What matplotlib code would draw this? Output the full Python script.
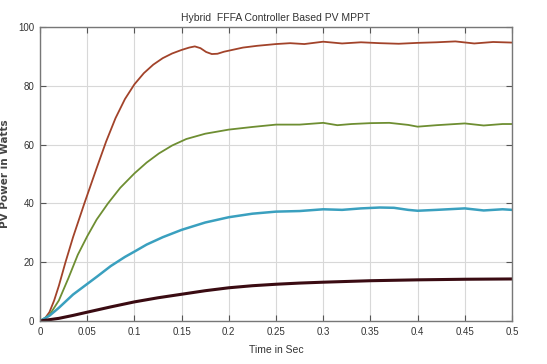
import matplotlib
matplotlib.use("Agg")
import matplotlib.pyplot as plt
from matplotlib import font_manager

names = {f.name for f in font_manager.fontManager.ttflist}
narrow = ['Liberation Sans Narrow', 'DejaVu Sans'] if 'Liberation Sans Narrow' in names else ['Liberation Sans', 'DejaVu Sans']

# ---- data ----
t_red = [0, 0.005, 0.01, 0.015, 0.02, 0.027, 0.035, 0.047, 0.06, 0.07, 0.08, 0.09, 0.1,
         0.11, 0.12, 0.13, 0.14, 0.15, 0.158, 0.164, 0.17, 0.176, 0.182, 0.188, 0.195,
         0.205, 0.215, 0.23, 0.25, 0.265, 0.28, 0.3, 0.32, 0.34, 0.36, 0.38, 0.4, 0.42,
         0.44, 0.46, 0.48, 0.5]
p_red = [0, 0.8, 3, 7, 12, 20, 28.5, 40, 52, 61, 69, 75.5, 80.5,
         84.3, 87.2, 89.4, 91.0, 92.2, 93.0, 93.4, 92.8, 91.5, 90.8, 90.9, 91.6,
         92.3, 93.0, 93.6, 94.2, 94.5, 94.2, 95.0, 94.4, 94.8, 94.5, 94.3, 94.6, 94.8,
         95.1, 94.4, 94.9, 94.7]

t_green = [0, 0.01, 0.02, 0.03, 0.04, 0.05, 0.06, 0.072, 0.085, 0.1, 0.113, 0.126, 0.14,
           0.155, 0.175, 0.2, 0.225, 0.25, 0.275, 0.3, 0.315, 0.33, 0.35, 0.37, 0.39,
           0.4, 0.42, 0.44, 0.45, 0.47, 0.49, 0.5]
p_green = [0, 2, 7, 14.5, 22.5, 28.8, 34.5, 40, 45.3, 50.2, 53.9, 57, 59.7,
           61.9, 63.7, 65.1, 66.0, 66.8, 66.8, 67.4, 66.6, 67.0, 67.3, 67.4, 66.7,
           66.1, 66.6, 67.0, 67.2, 66.5, 67.0, 67.0]

t_cyan = [0, 0.01, 0.02, 0.035, 0.05, 0.06, 0.075, 0.09, 0.1, 0.113, 0.13, 0.15, 0.175,
          0.2, 0.225, 0.25, 0.275, 0.3, 0.32, 0.34, 0.36, 0.375, 0.39, 0.4, 0.42, 0.45,
          0.47, 0.49, 0.5]
p_cyan = [0, 1.8, 4.5, 9, 12.6, 15, 18.7, 21.8, 23.6, 26, 28.5, 31, 33.5,
          35.3, 36.5, 37.2, 37.4, 38, 37.8, 38.3, 38.6, 38.5, 37.8, 37.5, 37.8, 38.3,
          37.6, 38, 37.8]

t_black = [0, 0.02, 0.035, 0.05, 0.075, 0.1, 0.125, 0.15, 0.175, 0.2, 0.225, 0.25,
           0.275, 0.3, 0.35, 0.4, 0.45, 0.5]
p_black = [0, 0.9, 1.9, 3, 4.8, 6.5, 7.9, 9.1, 10.3, 11.3, 12, 12.5,
           12.9, 13.2, 13.7, 14, 14.2, 14.3]

x_ticks = [0, 0.05, 0.1, 0.15, 0.2, 0.25, 0.3, 0.35, 0.4, 0.45, 0.5]
x_labels = ['0', '0.05', '0.1', '0.15', '0.2', '0.25', '0.3', '0.35', '0.4', '0.45', '0.5']
y_ticks = [0, 20, 40, 60, 80, 100]
y_labels = ['0', '20', '40', '60', '80', '100']

fig = plt.figure(figsize=(5.47, 3.64), dpi=100)
ax = fig.add_axes([40/547, 1-321/364, 472/547, 294/364])

ax.plot(t_red, p_red, color='#a2432a', lw=1.3)
ax.plot(t_green, p_green, color='#6e8e32', lw=1.3)
ax.plot(t_cyan, p_cyan, color='#3aa0bf', lw=1.8)
ax.plot(t_black, p_black, color='#3a0b12', lw=2.2)

ax.set_xlim(0, 0.5)
ax.set_ylim(0, 100)
ax.set_xticks(x_ticks)
ax.set_xticklabels(x_labels, family=narrow, fontsize=7, color='#333333')
ax.set_yticks(y_ticks)
ax.set_yticklabels(y_labels, family=narrow, fontsize=7, color='#333333')
ax.grid(True, color='#d8d8d8', lw=0.8)
ax.tick_params(direction='in', top=True, right=True, length=4, color='#555555', pad=4)
for s in ax.spines.values():
    s.set_color('#777777')
    s.set_linewidth(1.0)

ax.set_title('Hybrid  FFFA Controller Based PV MPPT', family=narrow, fontsize=7.5,
             color='#333333', pad=4)
ax.set_xlabel('Time in Sec', family=narrow, fontsize=7.5, color='#333333', labelpad=6)
ax.set_ylabel('PV Power in Watts', fontsize=7.5, fontweight='bold', color='#444444', labelpad=6)

fig.savefig('out.png', dpi=100)
